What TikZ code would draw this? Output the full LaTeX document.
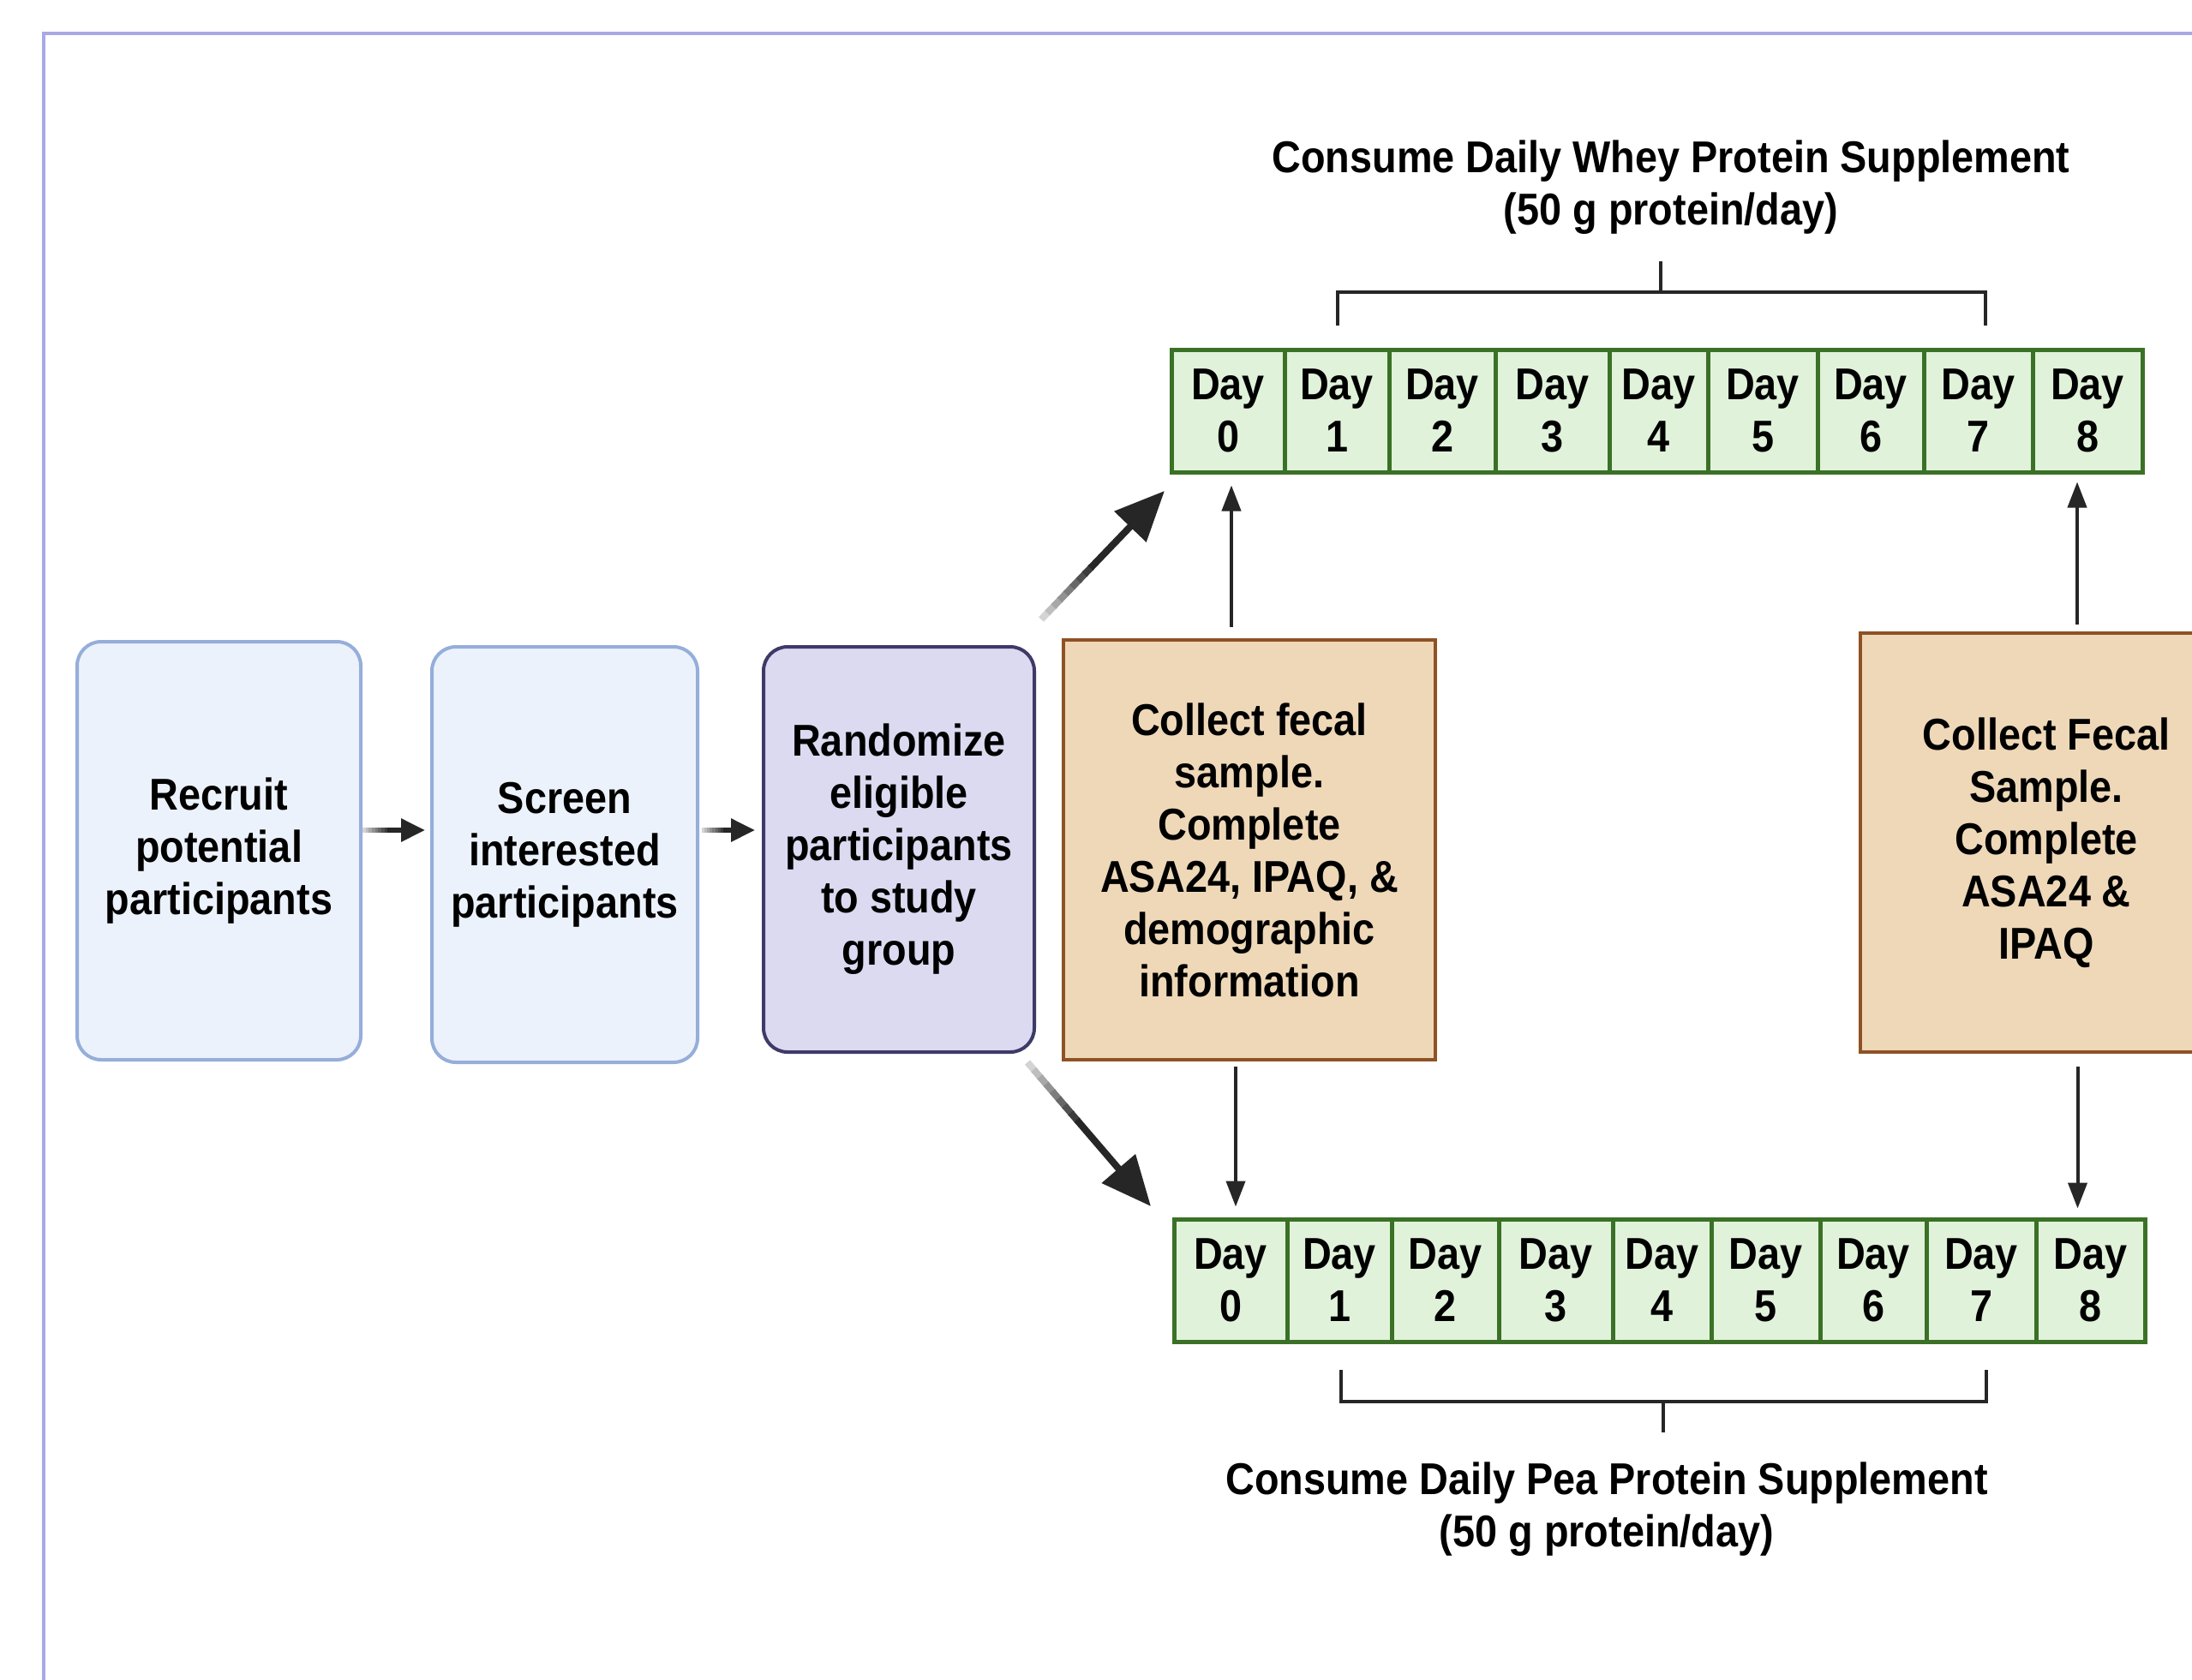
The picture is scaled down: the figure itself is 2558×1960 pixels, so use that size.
\documentclass[tikz,border=0pt]{standalone}
\usepackage{fontspec}
\setmainfont{Liberation Sans}[FakeStretch=0.9]
\usetikzlibrary{arrows.meta,calc}
\definecolor{framec}{HTML}{A9A9E6}
\definecolor{bluefill}{HTML}{ECF2FB}
\definecolor{blueedge}{HTML}{95AEDA}
\definecolor{purpfill}{HTML}{DCDAF1}
\definecolor{purpedge}{HTML}{3E3A68}
\definecolor{brownfill}{HTML}{EED8B8}
\definecolor{brownedge}{HTML}{8E5225}
\definecolor{greenfill}{HTML}{E0F2DA}
\definecolor{greenedge}{HTML}{3A7126}
\definecolor{arrowc}{HTML}{262626}
\newcommand\fadearrow[5]{%
  \foreach \k in {0,...,7}{%
    \pgfmathsetmacro\ca{\k*0.05}%
    \pgfmathsetmacro\cb{(\k+1)*0.05+0.01}%
    \pgfmathtruncatemacro\shd{20+\k*10}%
    \draw[line width=#3, draw=arrowc!\shd] ($(#1)!\ca!(#2)$) -- ($(#1)!\cb!(#2)$);
  }%
  \draw[line width=#3, draw=arrowc, -{Triangle[length=#4,width=#5]}] ($(#1)!0.4!(#2)$) -- (#2);
}
\begin{document}
\begin{tikzpicture}[x=1pt,y=-1pt,
  every node/.style={font=\fontsize{52}{61}\selectfont\bfseries, align=center, inner sep=0pt},
  blueproc/.style={draw=blueedge, fill=bluefill, line width=4pt, rounded corners=28pt},
  purpproc/.style={draw=purpedge, fill=purpfill, line width=4pt, rounded corners=28pt},
  brownproc/.style={draw=brownedge, fill=brownfill, line width=4.5pt},
  daycell/.style={draw=greenedge, fill=greenfill, line width=5pt, minimum height=143pt},
  vlink/.style={draw=arrowc, line width=4pt, -{Triangle[length=30pt,width=22pt]}},
  bracketline/.style={draw=arrowc, line width=4pt}
]
\useasboundingbox (0,0) rectangle (2558,1960);
\clip (0,0) rectangle (2558,1960);
\fill[white] (0,0) rectangle (2558,1960);
\draw[framec, line width=3.5pt] (51,39) rectangle (2800,2200);

% process boxes
\node[blueproc, minimum width=331pt, minimum height=488pt] (recruit) at (255.5,993) {Recruit\\potential\\participants};
\node[blueproc, minimum width=310pt, minimum height=485pt] (screen) at (659,997.5) {Screen\\interested\\participants};
\node[purpproc, minimum width=316pt, minimum height=473pt] (random) at (1049,991.5) {Randomize\\eligible\\participants\\to study\\group};
\node[brownproc, minimum width=434pt, minimum height=490pt] (fecal1) at (1458,992) {Collect fecal\\sample.\\Complete\\ASA24, IPAQ, \&\\demographic\\information};
\node[brownproc, minimum width=434pt, minimum height=489pt] (fecal2) at (2388,983.5) {Collect Fecal\\Sample.\\Complete\\ASA24 \&\\IPAQ};

% day strips
\foreach \i/\a/\b in {0/1367/1499,1/1499/1621,2/1621/1745,3/1745/1878,4/1878/1993,5/1993/2121,6/2121/2245,7/2245/2372,8/2372/2500}{
  \node[daycell, minimum width={\b-\a}] (w\i) at ({(\a+\b)/2},479.5) {Day\\\i};
}
\foreach \i/\a/\b in {0/1370/1502,1/1502/1624,2/1624/1749,3/1749/1882,4/1882/1997,5/1997/2124,6/2124/2248,7/2248/2376,8/2376/2503}{
  \node[daycell, minimum width={\b-\a}] (p\i) at ({(\a+\b)/2},1494.5) {Day\\\i};
}

% titles
\node (wheyt) at (1950,219) {Consume Daily Whey Protein Supplement\\(50 g protein/day)};
\node (peat) at (1875,1762) {Consume Daily Pea Protein Supplement\\(50 g protein/day)};

% brackets
\draw[bracketline] (1561,380) -- (1561,341) -- (2317,341) -- (2317,380);
\draw[bracketline] (1938,341) -- (1938,305);
\draw[bracketline] (1565,1599) -- (1565,1636) -- (2318,1636) -- (2318,1599);
\draw[bracketline] (1941,1636) -- (1941,1672);

% small horizontal arrows
\coordinate (a1s) at (recruit.east |- 0,969);
\coordinate (a1e) at ([xshift=-6pt]screen.west |- 0,969);
\fadearrow{a1s}{a1e}{6pt}{28pt}{26pt}
\coordinate (a2s) at ([xshift=3pt]screen.east |- 0,969);
\coordinate (a2e) at ([xshift=-8pt]random.west |- 0,969);
\fadearrow{a2s}{a2e}{6pt}{28pt}{26pt}

% diagonal arrows
\coordinate (dus) at (1215,723);
\coordinate (due) at (1359,573);
\fadearrow{dus}{due}{8pt}{58pt}{50pt}
\coordinate (dds) at (1199,1240);
\coordinate (dde) at (1343,1408);
\fadearrow{dds}{dde}{8pt}{58pt}{50pt}

% vertical arrows
\draw[vlink, shorten <=13pt, shorten >=13pt] ([xshift=4pt]w0.south |- fecal1.north) -- ([xshift=4pt]w0.south);
\draw[vlink, shorten <=6pt, shorten >=12pt] ([xshift=6pt]p0.north |- fecal1.south) -- ([xshift=6pt]p0.north);
\draw[vlink, shorten <=8pt, shorten >=9pt] ([xshift=-12pt]w8.south |- fecal2.north) -- ([xshift=-12pt]w8.south);
\draw[vlink, shorten <=15pt, shorten >=10pt] ([xshift=-15pt]p8.north |- fecal2.south) -- ([xshift=-15pt]p8.north);
\end{tikzpicture}
\end{document}
